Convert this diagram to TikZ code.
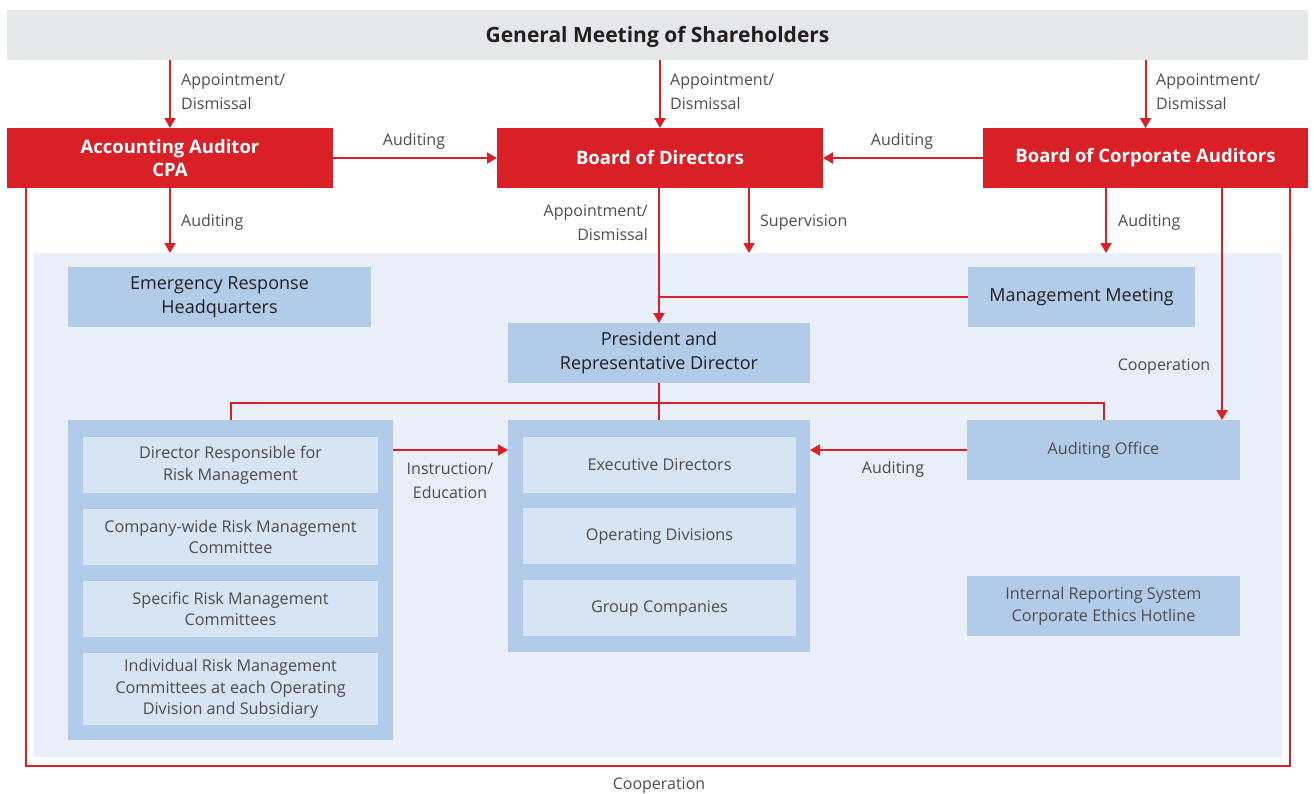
\documentclass[tikz,border=0pt]{standalone}
\usepackage{fontspec}
\setmainfont{Open Sans}
\usetikzlibrary{arrows.meta}
\definecolor{brand}{HTML}{DA2027}
\definecolor{panelbg}{HTML}{E9EFF8}
\definecolor{boxblue}{HTML}{B2CBE8}
\definecolor{innerblue}{HTML}{D7E4F4}
\definecolor{topgray}{HTML}{E6E7E9}
\definecolor{labeltxt}{HTML}{4D4D4D}
\definecolor{boxtxt}{HTML}{231F20}
\tikzset{
  base/.style={inner sep=0pt, outer sep=0pt, align=center},
  redbox/.style={base, fill=brand, text=white, font=\fontsize{18.5}{23}\selectfont\bfseries, minimum height=60pt},
  bluebox/.style={base, fill=boxblue, text=boxtxt, font=\fontsize{18}{24}\selectfont, minimum height=60pt},
  grpbox/.style={base, fill=boxblue},
  innerbox/.style={base, fill=innerblue, text=labeltxt, font=\fontsize{16.2}{21.5}\selectfont, minimum width=295pt},
  lbl/.style={inner sep=0pt, text=labeltxt, font=\fontsize{16}{24}\selectfont, align=left},
  wire/.style={draw=brand, line width=2pt},
  arr/.style={wire, -{Triangle[width=11pt,length=10pt]}},
}
\begin{document}
\begin{tikzpicture}[x=1pt,y=-1pt]
\useasboundingbox (0,0) rectangle (1314,793);

% background panel for the executive organisation
\node[base, fill=panelbg, minimum width=1248pt, minimum height=504pt] (panel) at (658,505) {};

% shareholders bar
\node[base, fill=topgray, minimum width=1301pt, minimum height=50pt] (gm) at (657.5,35) {};
\node[inner sep=0pt, font=\fontsize{21}{25}\selectfont\bfseries, text=boxtxt] (gmt) at (657.5,37) {General Meeting of Shareholders};

% red governance boxes
\node[redbox, minimum width=326pt] (aa) at (170,158) {Accounting Auditor\\CPA};
\node[redbox, minimum width=326pt] (bod) at (660,158) {\raisebox{-1.5pt}{Board of Directors}};
\node[redbox, minimum width=325pt] (bca) at (1145.5,158) {\raisebox{-2.5pt}{Board of Corporate Auditors}};

% blue boxes inside the panel
\node[bluebox, minimum width=303pt] (erh) at (219.5,297) {Emergency Response\\Headquarters};
\node[bluebox, minimum width=227pt] (mm) at (1081.5,297) {\raisebox{-2pt}{Management Meeting}};
\node[bluebox, minimum width=302pt] (pres) at (659,353) {President and\\Representative Director};

% left group: risk management
\node[grpbox, minimum width=325pt, minimum height=320pt] (lg) at (230.5,580) {};
\node[innerbox, minimum height=56pt] (r1) at (230.5,465) {Director Responsible for\\Risk Management};
\node[innerbox, minimum height=56pt] (r2) at (230.5,537) {Company-wide Risk Management\\Committee};
\node[innerbox, minimum height=56pt] (r3) at (230.5,609) {Specific Risk Management\\Committees};
\node[innerbox, minimum height=72pt] (r4) at (230.5,689) {Individual Risk Management\\Committees at each Operating\\Division and Subsidiary};

% centre group: business execution
\node[grpbox, minimum width=302pt, minimum height=232pt] (cg) at (659,536) {};
\node[innerbox, minimum width=273pt, minimum height=56pt] (c1) at (659.5,465) {Executive Directors};
\node[innerbox, minimum width=273pt, minimum height=56pt] (c2) at (659.5,536) {Operating Divisions};
\node[innerbox, minimum width=273pt, minimum height=56pt] (c3) at (659.5,608) {Group Companies};

% right side boxes
\node[grpbox, minimum width=273pt, minimum height=60pt, text=labeltxt, font=\fontsize{16.2}{21.5}\selectfont] (ao) at (1103.5,450) {Auditing Office};
\node[grpbox, minimum width=273pt, minimum height=60pt, text=labeltxt, font=\fontsize{16.2}{22}\selectfont] (irs) at (1103.5,606) {Internal Reporting System\\Corporate Ethics Hotline};

% appointment / dismissal by shareholders
\draw[arr] (gm.south -| aa.north) -- (aa.north);
\draw[arr] (gm.south -| bod.north) -- (bod.north);
\draw[arr] (gm.south -| bca.north) -- (bca.north);
\node[lbl, anchor=west] (l1) at (181,92) {Appointment/\\Dismissal};
\node[lbl, anchor=west] (l2) at (670,92) {Appointment/\\Dismissal};
\node[lbl, anchor=west] (l3) at (1156,92) {Appointment/\\Dismissal};

% auditing of the board
\draw[arr] (aa.east) -- (bod.west);
\draw[arr] (bca.west) -- (bod.east);
\node[lbl] (l4) at (414,141.5) {Auditing};
\node[lbl] (l5) at (902,141.5) {Auditing};

% arrows into the panel
\coordinate (aaDown) at (170,253);
\coordinate (supDown) at (749,253);
\coordinate (bcaDown) at (1106,253);
\draw[arr] (aa.south) -- (aaDown);
\node[lbl, anchor=west] (l6) at (181,222.5) {Auditing};
\draw[arr] (bod.south -| supDown) -- (supDown);
\node[lbl, anchor=west] (l7) at (760,222.5) {Supervision};
\draw[arr] (bca.south -| bcaDown) -- (bcaDown);
\node[lbl, anchor=west] (l8) at (1118,222.5) {Auditing};

% board appoints the president
\draw[arr] (bod.south -| pres.north) -- (pres.north);
\node[lbl, anchor=east, align=right] (l9) at (648,223) {Appointment/\\Dismissal};
\draw[wire] (mm.west) -- (mm.west -| pres.north);

% cooperation between corporate auditors and auditing office
\coordinate (coopX) at (1222,188);
\draw[arr] (coopX) -- (coopX |- ao.north);
\node[lbl] (l10) at (1164,366.5) {Cooperation};

% president to the three groups
\coordinate (bus) at (659,403);
\draw[wire] (pres.south) -- (cg.north);
\draw[wire] (lg.north) -- (lg.north |- bus) -- (ao.north |- bus) -- (ao.north);

% instruction and auditing arrows
\draw[arr] (lg.east |- c1) ++(0,-15) coordinate (ie) -- (ie -| cg.west);
\node[lbl, align=center] (l11) at (450,481) {Instruction/\\Education};
\draw[arr] (ao.west) -- (ao.west -| cg.east);
\node[lbl] (l12) at (893,469.5) {Auditing};

% outer cooperation loop
\coordinate (loopR) at (1290,766);
\coordinate (loopL) at (26,766);
\draw[wire] (bca.south -| loopR) -- (loopR) -- (loopL) -- (aa.south -| loopL);
\node[lbl] (l13) at (659,785.5) {Cooperation};
\end{tikzpicture}
\end{document}
